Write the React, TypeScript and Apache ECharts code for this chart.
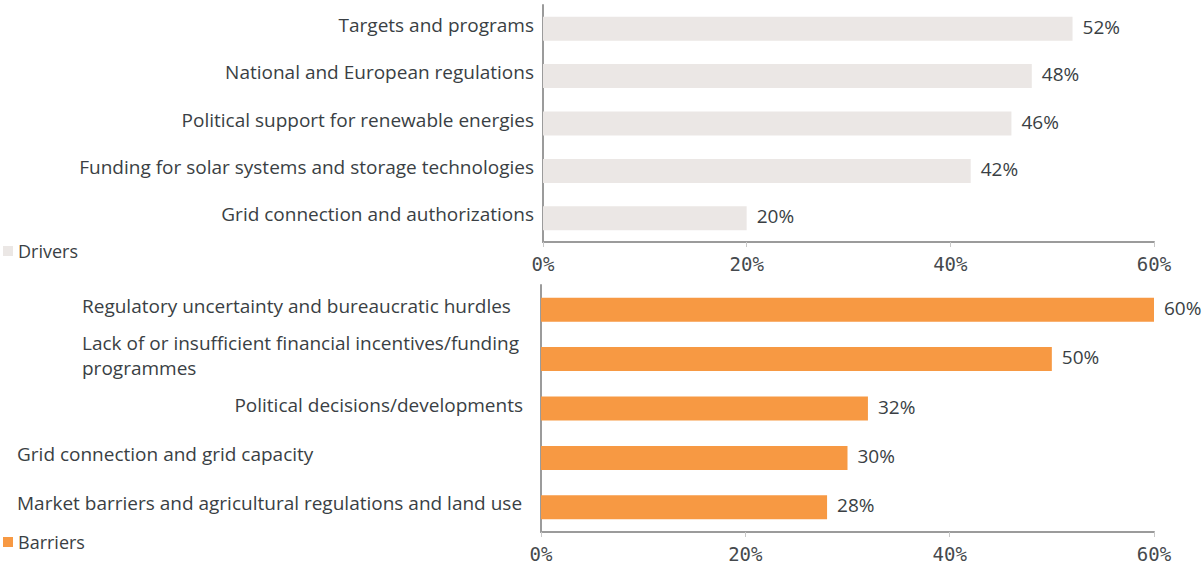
import React, { useEffect, useRef } from "react";
import * as echarts from "echarts";

const driverCategories = [
  "Targets and programs",
  "National and European regulations",
  "Political support for renewable energies",
  "Funding for solar systems and storage technologies",
  "Grid connection and authorizations",
];
const driverValues = [52, 48, 46, 42, 20];

const barrierCategories = [
  "Regulatory uncertainty and bureaucratic hurdles",
  "Lack of or insufficient financial incentives/funding\nprogrammes",
  "Political decisions/developments",
  "Grid connection and grid capacity",
  "Market barriers and agricultural regulations and land use",
];
const barrierValues = [60, 50, 32, 30, 28];
// rich style key per barrier label (layout of the original labels)
const barrierLabelStyle = ["b", "b", "c", "a", "a"];

const xTicks = [0, 20, 40, 60];

const TEXT = "#3a3f44";
const SANS = "'Open Sans', 'Noto Sans', sans-serif";
const MONO = "'DejaVu Sans Mono', monospace";
const FS = 19;

export default function App() {
  const ref = useRef<HTMLDivElement>(null);
  useEffect(() => {
    document.body.style.margin = "0";
    const chart = echarts.init(ref.current!, null, { renderer: "svg" });
    const xAxisBase = (gridIndex: number) => ({
      type: "value" as const,
      gridIndex,
      min: xTicks[0],
      max: xTicks[xTicks.length - 1],
      interval: xTicks[1] - xTicks[0],
      splitLine: { show: false },
      axisLine: { show: true, lineStyle: { color: "#9b9b9b", width: 2 } },
      axisTick: { show: true, length: 5, lineStyle: { color: "#c8c8c8", width: 1 } },
      axisLabel: {
        formatter: "{value}%",
        fontFamily: MONO,
        fontSize: 19,
        color: "#45494d",
        margin: 12,
      },
    });
    const valueLabel = {
      show: true,
      position: "right" as const,
      distance: 10,
      formatter: "{v|{c}%}",
      fontFamily: SANS,
      fontSize: FS,
      color: TEXT,
      padding: [0, 0, 4, 0],
      rich: { v: { fontFamily: SANS, fontSize: FS, color: TEXT } },
    };
    chart.setOption({
      animation: false,
      grid: [
        { left: 543, right: 49, top: 5, height: 237 },
        { left: 541, right: 49, top: 285, height: 247 },
      ],
      legend: [
        {
          data: ["Drivers"],
          left: 3,
          top: 242,
          padding: 0,
          icon: "rect",
          itemWidth: 10,
          itemHeight: 10,
          itemGap: 5,
          textStyle: { fontFamily: SANS, fontSize: 18, color: TEXT },
          selectedMode: false,
        },
        {
          data: ["Barriers"],
          left: 3,
          top: 533,
          padding: 0,
          icon: "rect",
          itemWidth: 10,
          itemHeight: 10,
          itemGap: 5,
          textStyle: { fontFamily: SANS, fontSize: 18, color: TEXT },
          selectedMode: false,
        },
      ],
      xAxis: [xAxisBase(0), xAxisBase(1)],
      yAxis: [
        {
          type: "category",
          gridIndex: 0,
          inverse: true,
          data: driverCategories,
          axisLine: { show: true, lineStyle: { color: "#9b9b9b", width: 2 } },
          axisTick: { show: false },
          axisLabel: {
            fontFamily: SANS,
            fontSize: FS,
            color: TEXT,
            margin: 9,
            align: "right",
            padding: [0, 0, 8, 0],
            formatter: (v: string) => `{d|${v}}`,
            rich: { d: { fontFamily: SANS, fontSize: FS, color: TEXT } },
          },
        },
        {
          type: "category",
          gridIndex: 1,
          inverse: true,
          data: barrierCategories,
          axisLine: { show: true, lineStyle: { color: "#9b9b9b", width: 2 } },
          axisTick: { show: false },
          axisLabel: {
            fontFamily: SANS,
            fontSize: FS,
            color: TEXT,
            margin: 9,
            align: "right",
            lineHeight: 25,
            padding: [0, 0, 8, 0],
            formatter: (v: string, i: number) => `{${barrierLabelStyle[i]}|${v}}`,
            rich: {
              a: { width: 515, align: "left", fontFamily: SANS, fontSize: FS, color: TEXT, lineHeight: 25 },
              b: { width: 450, align: "left", fontFamily: SANS, fontSize: FS, color: TEXT, lineHeight: 25 },
              c: { align: "right", padding: [0, 9, 0, 0], fontFamily: SANS, fontSize: FS, color: TEXT, lineHeight: 25 },
            },
          },
        },
      ],
      series: [
        {
          name: "Drivers",
          type: "bar",
          xAxisIndex: 0,
          yAxisIndex: 0,
          data: driverValues,
          barWidth: 24,
          itemStyle: { color: "#ebe7e5" },
          label: valueLabel,
        },
        {
          name: "Barriers",
          type: "bar",
          xAxisIndex: 1,
          yAxisIndex: 1,
          data: barrierValues,
          barWidth: 24,
          itemStyle: { color: "#f79943" },
          label: valueLabel,
        },
      ],
    });
    return () => chart.dispose();
  }, []);
  return <div ref={ref} style={{ width: 1203, height: 564 }} />;
}
